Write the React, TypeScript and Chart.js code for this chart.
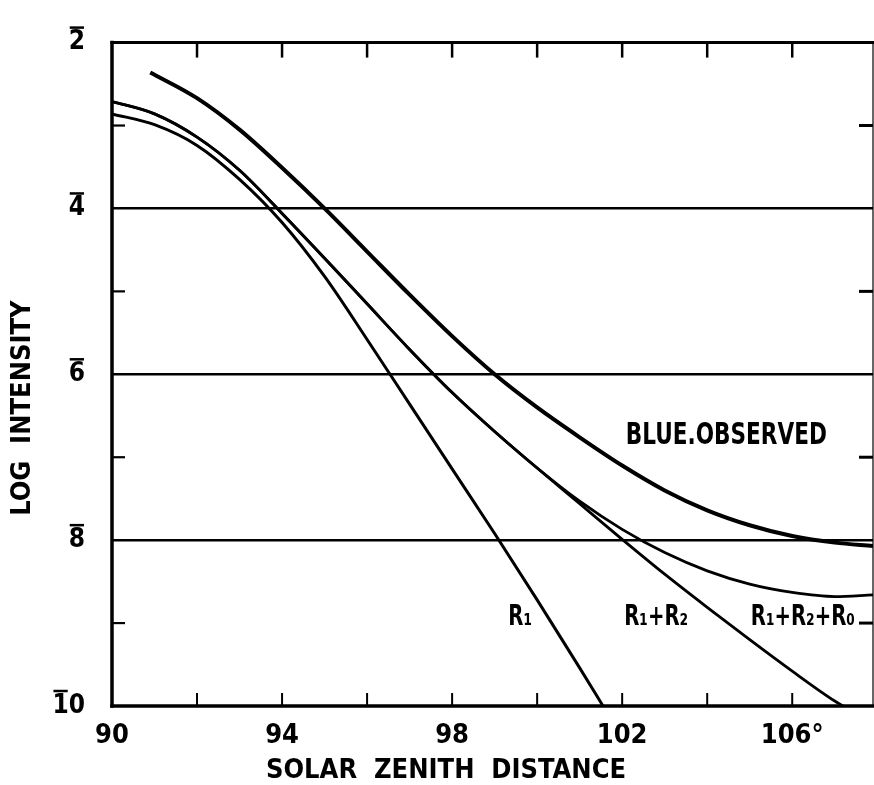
import React, { useEffect, useRef } from 'react';
import { Chart, registerables } from 'chart.js';

Chart.register(...registerables);

// ---- axes ----
const X_MIN = 90;
const X_MAX = 107.9;
const Y_MIN = 2;
const Y_MAX = 10;
const X_TICKS = [90, 92, 94, 96, 98, 100, 102, 104, 106];
const X_TICK_LABELS = ['90', '', '94', '', '98', '', '102', '', '106°'];
const X_MINOR_MARKS = [92, 94, 96, 98, 100, 102, 104, 106];
const Y_TICKS = [2, 3, 4, 5, 6, 7, 8, 9, 10];
// bar (negative characteristic) notation: the bar is drawn over the first digit
const Y_TICK_LABELS = ['2', '', '4', '', '6', '', '8', '', '10'];
const Y_GRID_LINES = [4, 6, 8];
const Y_MINOR_MARKS = [3, 5, 7, 9];
const X_TITLE = 'SOLAR  ZENITH  DISTANCE';
const Y_TITLE = 'LOG  INTENSITY';

// ---- series (x = solar zenith distance, y = log intensity, bar notation) ----
const BLUE_X = [90.9, 92, 93, 94, 95, 96, 97, 98, 99, 100, 101, 102, 103, 104, 105, 106, 107, 107.9];
const BLUE_Y = [2.36, 2.67, 3.05, 3.51, 4.0, 4.52, 5.04, 5.54, 6.0, 6.4, 6.76, 7.1, 7.4, 7.64, 7.82, 7.95, 8.03, 8.07];

const R1_X = [90, 91, 92, 93, 94, 95, 96, 97, 98, 99, 100, 101, 101.55];
const R1_Y = [2.86, 2.99, 3.24, 3.65, 4.17, 4.82, 5.58, 6.36, 7.14, 7.92, 8.72, 9.54, 10.0];

const R12_X = [90, 91, 92, 93, 94, 95, 96, 97, 98, 99, 100, 101, 102, 103, 104, 105, 106, 107, 107.2];
const R12_Y = [2.71, 2.86, 3.14, 3.54, 4.06, 4.6, 5.15, 5.7, 6.22, 6.69, 7.13, 7.56, 7.99, 8.41, 8.81, 9.2, 9.58, 9.94, 10.0];

const R120_X = [90, 91, 92, 93, 94, 95, 96, 97, 98, 99, 100, 101, 102, 103, 104, 105, 106, 107, 107.9];
const R120_Y = [2.71, 2.86, 3.14, 3.54, 4.06, 4.6, 5.15, 5.7, 6.22, 6.69, 7.13, 7.53, 7.87, 8.15, 8.37, 8.53, 8.63, 8.68, 8.66];

// ---- curve labels ----
const NOTE_TEXT = ['BLUE.OBSERVED', 'R₁', 'R₁+R₂', 'R₁+R₂+R₀'];
const NOTE_X = [104.45, 99.6, 102.8, 106.25];
const NOTE_Y = [6.75, 8.94, 8.94, 8.94];

const FONT = '"DejaVu Sans Condensed", "Liberation Sans Narrow", "DejaVu Sans", sans-serif';
const Y_TICK_FONT_SIZE = 26;
const Y_TICK_PAD = 27;

const toPts = (xs: number[], ys: number[]) => xs.map((x, i) => ({ x, y: ys[i] }));

const framePlugin = {
  id: 'frameAndMarks',
  afterDatasetsDraw(chart: any) {
    const { ctx, chartArea, scales } = chart;
    const { left, right, top, bottom } = chartArea;
    const x = scales.x;
    const y = scales.y;
    const line = (x1: number, y1: number, x2: number, y2: number, w: number) => {
      ctx.lineWidth = w;
      ctx.beginPath();
      ctx.moveTo(x1, y1);
      ctx.lineTo(x2, y2);
      ctx.stroke();
    };
    ctx.save();
    ctx.strokeStyle = '#000';
    ctx.lineCap = 'square';
    line(left, top, right, top, 3);
    line(left, top, left, bottom, 3.5);
    line(left, bottom, right, bottom, 3.5);
    line(right, top, right, bottom, 1.2);
    ctx.lineCap = 'butt';
    X_MINOR_MARKS.forEach((v) => {
      const px = x.getPixelForValue(v);
      line(px, top, px, top + 15, 2.5);
      line(px, bottom, px, bottom - 13, 2);
    });
    Y_MINOR_MARKS.forEach((v) => {
      const py = y.getPixelForValue(v);
      line(left, py, left + 13, py, 2.2);
      line(right, py, right - 14, py, 3);
    });
    // bars over the characteristic of the y tick labels
    ctx.font = `bold ${Y_TICK_FONT_SIZE}px ${FONT}`;
    Y_TICKS.forEach((v, i) => {
      const label = Y_TICK_LABELS[i];
      if (!label) return;
      const py = y.getPixelForValue(v);
      const rightEdge = left - Y_TICK_PAD;
      const w = ctx.measureText(label).width;
      const w1 = ctx.measureText(label[0]).width;
      const x0 = rightEdge - w;
      line(x0 + 1, py - 15, x0 + w1 - 1, py - 15, 2.5);
    });
    ctx.fillStyle = '#000';
    ctx.textAlign = 'center';
    ctx.textBaseline = 'middle';
    NOTE_TEXT.forEach((t, i) => {
      const px = x.getPixelForValue(NOTE_X[i]);
      const py = y.getPixelForValue(NOTE_Y[i]);
      ctx.save();
      ctx.translate(px, py);
      ctx.scale(i === 0 ? 0.8 : 0.78, 1);
      ctx.font = `bold ${i === 0 ? 30 : 28}px ${FONT}`;
      ctx.fillText(t, 0, 0);
      ctx.restore();
    });
    ctx.restore();
  },
};

export default function App() {
  const ref = useRef<HTMLCanvasElement>(null);
  useEffect(() => {
    if (!ref.current) return;
    const lineDs = (label: string, xs: number[], ys: number[], w: number) => ({
      label,
      data: toPts(xs, ys),
      borderColor: '#000',
      backgroundColor: '#000',
      borderWidth: w,
      pointRadius: 0,
      fill: false,
      cubicInterpolationMode: 'monotone' as const,
    });
    const chart = new Chart(ref.current, {
      type: 'line',
      data: {
        datasets: [
          lineDs('BLUE.OBSERVED', BLUE_X, BLUE_Y, 4),
          lineDs('R₁', R1_X, R1_Y, 3),
          lineDs('R₁+R₂', R12_X, R12_Y, 2.8),
          lineDs('R₁+R₂+R₀', R120_X, R120_Y, 2.8),
        ],
      },
      options: {
        responsive: false,
        devicePixelRatio: 1,
        animation: false,
        layout: { padding: { top: 28, right: 1, left: 0, bottom: 0 } },
        plugins: { legend: { display: false }, tooltip: { enabled: false } },
        scales: {
          x: {
            type: 'linear',
            min: X_MIN,
            max: X_MAX,
            afterBuildTicks: (s: any) => {
              s.ticks = X_TICKS.map((value) => ({ value }));
            },
            afterFit: (s: any) => {
              s.height = 79;
            },
            grid: { display: false, drawTicks: false },
            border: { display: false },
            ticks: {
              autoSkip: false,
              maxRotation: 0,
              padding: 14,
              color: '#000',
              font: { family: FONT, size: 27, weight: 'bold' },
              callback: (v: any) => {
                const i = X_TICKS.indexOf(Number(v));
                return i >= 0 ? X_TICK_LABELS[i] : '';
              },
            },
            title: {
              display: true,
              text: X_TITLE + ' '.repeat(11),
              color: '#000',
              font: { family: FONT, size: 27, weight: 'bold', lineHeight: 1 },
              padding: { top: 0, bottom: 1 },
            },
          },
          y: {
            type: 'linear',
            reverse: true,
            min: Y_MIN,
            max: Y_MAX,
            afterBuildTicks: (s: any) => {
              s.ticks = Y_TICKS.map((value) => ({ value }));
            },
            afterFit: (s: any) => {
              s.width = 112;
            },
            grid: {
              drawTicks: false,
              color: '#000',
              lineWidth: (c: any) => (c.tick && Y_GRID_LINES.includes(c.tick.value) ? 2.5 : 0),
            },
            border: { display: false },
            ticks: {
              autoSkip: false,
              padding: Y_TICK_PAD,
              color: '#000',
              font: { family: FONT, size: Y_TICK_FONT_SIZE, weight: 'bold' },
              callback: (v: any) => {
                const i = Y_TICKS.indexOf(Number(v));
                return i >= 0 ? Y_TICK_LABELS[i] : '';
              },
            },
            title: {
              display: true,
              text: Y_TITLE + ' '.repeat(8),
              color: '#000',
              font: { family: FONT, size: 27, weight: 'bold' },
              padding: { top: 7, bottom: 0 },
            },
          },
        },
      },
      plugins: [framePlugin],
    } as any);
    return () => chart.destroy();
  }, []);
  return (
    <div style={{ position: 'absolute', left: 0, top: 0, width: 874, height: 785, background: '#fff' }}>
      <canvas ref={ref} width={874} height={785} style={{ display: 'block', width: 874, height: 785 }} />
    </div>
  );
}
